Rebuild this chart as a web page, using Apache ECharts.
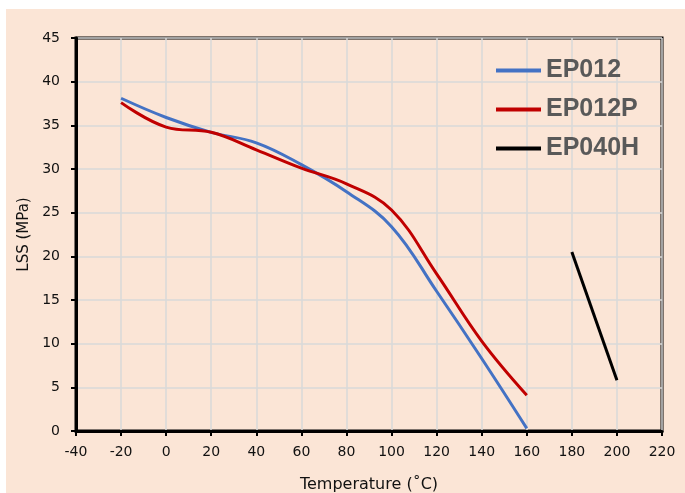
<!DOCTYPE html>
<html>
<head>
<meta charset="utf-8">
<script src="https://cdn.jsdelivr.net/npm/echarts@6/dist/echarts.min.js"></script>
<style>
html,body{margin:0;padding:0;background:#fff;}
#bg{position:absolute;left:6px;top:9px;width:679px;height:484px;background:#FBE5D6;}
#chart{position:absolute;left:0;top:0;width:685px;height:493px;}
</style>
</head>
<body>
<div id="bg"></div>
<div id="chart"></div>
<script>
var xTicks = [-40, 220, 20];
var yTicks = [0, 45, 5];
var seriesNames = ['EP012', 'EP012P', 'EP040H'];
var ep012 = [[-20,38.1],[0,35.9],[20,34.2],[40,33.0],[60,30.5],[80,27.4],[100,23.4],[120,16.0],[140,8.3],[160,0.3]];
var ep012p = [[-20,37.6],[0,34.8],[20,34.2],[40,32.2],[60,30.1],[80,28.3],[100,25.3],[120,18.0],[140,10.3],[160,4.1]];
var ep040h = [[180,20.5],[200,5.8]];
var colors = ['#4472C4', '#C00000', '#000000'];

var chart = echarts.init(document.getElementById('chart'));
var axisCommon = {
  axisLine: {show: true, onZero: false, lineStyle: {color: '#000', width: 3}},
  axisTick: {show: true, inside: false, length: 5, lineStyle: {color: '#000', width: 2}},
  splitLine: {show: true, lineStyle: {color: '#D9D9D9', width: 1.5}},
  axisLabel: {color: '#111', fontFamily: 'DejaVu Sans', fontSize: 14}
};
function mk(name, data, i){
  return {name: name, type: 'line', data: data, smooth: 0.4, symbol: 'none',
    lineStyle: {color: colors[i], width: 3}, itemStyle: {color: colors[i]}};
}
chart.setOption({
  animation: false,
  backgroundColor: 'transparent',
  grid: {left: 76, right: 23, top: 38, bottom: 62, show: true, borderColor: '#000', borderWidth: 3,
    backgroundColor: 'transparent', containLabel: false, outerBoundsMode: 'none'},
  xAxis: Object.assign({}, axisCommon, {
    type: 'value', min: xTicks[0], max: xTicks[1], interval: xTicks[2],
    name: 'Temperature (˚C)', nameLocation: 'middle', nameGap: 46,
    nameTextStyle: {color: '#111', fontFamily: 'DejaVu Sans', fontSize: 16},
    axisLabel: Object.assign({}, axisCommon.axisLabel, {margin: 14})
  }),
  yAxis: Object.assign({}, axisCommon, {
    type: 'value', min: yTicks[0], max: yTicks[1], interval: yTicks[2],
    name: 'LSS (MPa)', nameLocation: 'middle', nameGap: 43,
    nameTextStyle: {color: '#111', fontFamily: 'DejaVu Sans', fontSize: 15},
    axisLabel: Object.assign({}, axisCommon.axisLabel, {margin: 16})
  }),
  legend: {
    orient: 'vertical', left: 491, top: 53, icon: 'rect', itemWidth: 45, itemHeight: 4, itemGap: 14,
    data: seriesNames,
    textStyle: {color: '#595959', fontFamily: 'Liberation Sans', fontWeight: 'bold', fontSize: 25}
  },
  series: [mk(seriesNames[0], ep012, 0), mk(seriesNames[1], ep012p, 1), mk(seriesNames[2], ep040h, 2)]
});
</script>
</body>
</html>
